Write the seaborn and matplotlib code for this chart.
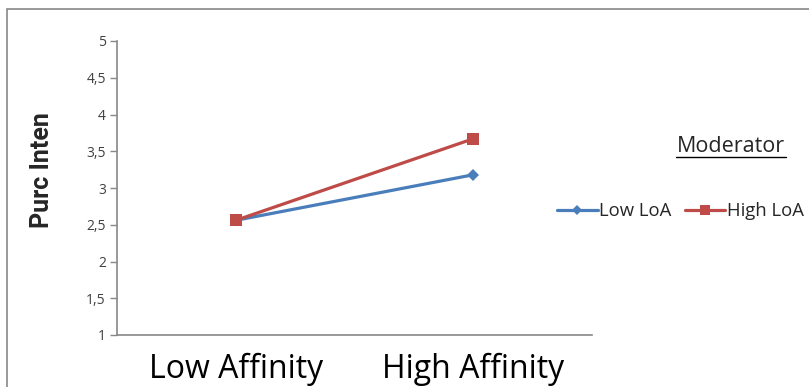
import matplotlib
matplotlib.use("Agg")
import matplotlib.pyplot as plt
import seaborn as sns
import pandas as pd
from matplotlib.lines import Line2D
from matplotlib.patches import Rectangle

categories = ["Low Affinity", "High Affinity"]
series = ["Low LoA", "High LoA"]
low_loa = [2.56, 3.18]
high_loa = [2.56, 3.67]
y_ticks = [1, 1.5, 2, 2.5, 3, 3.5, 4, 4.5, 5]

df = pd.DataFrame({
    "Affinity": categories * 2,
    "Purc Inten": low_loa + high_loa,
    "Moderator": [series[0]] * 2 + [series[1]] * 2,
})

sns.set_style("white")
plt.rcParams["font.family"] = ["Open Sans", "DejaVu Sans"]

W, H = 809, 387
fig = plt.figure(figsize=(W / 100, H / 100), dpi=100)
ax = fig.add_axes([117 / W, 1 - 335 / H, (592 - 117) / W, (335 - 41) / H])

blue = "#4A7EBB"
red = "#BE4B48"
sns.lineplot(data=df, x="Affinity", y="Purc Inten", hue="Moderator", style="Moderator",
             palette={"Low LoA": blue, "High LoA": red},
             markers={"Low LoA": "D", "High LoA": "s"}, dashes=False,
             linewidth=2.3, markeredgewidth=0, ax=ax, legend=False, sort=False)
for ln in ax.get_lines():
    if ln.get_marker() == "D":
        ln.set_markersize(6.5)
    elif ln.get_marker() == "s":
        ln.set_markersize(9)

ax.set_xlim(-0.5, 1.5)
ax.set_ylim(1, 5)
ax.set_yticks(y_ticks)
ax.set_yticklabels([f"{v:g}".replace(".", ",") for v in y_ticks], fontsize=10, color="#404040")
ax.set_xticks([-0.5, 0.5, 1.5])
ax.set_xticklabels([])
ax.set_xticks([0, 1], minor=True)
ax.set_xticklabels(categories, minor=True, fontsize=23, color="black")
ax.tick_params(axis="x", which="minor", length=0, pad=13)
ax.tick_params(axis="x", which="major", direction="in", length=5, color="#888888", width=1)
ax.tick_params(axis="y", which="major", direction="out", length=5, color="#888888", width=1, pad=3, left=True)
for s in ["top", "right"]:
    ax.spines[s].set_visible(False)
for s in ["left", "bottom"]:
    ax.spines[s].set_color("#888888")
    ax.spines[s].set_linewidth(1.2)
ax.set_xlabel("")
ax.set_ylabel("")

fig.text(42 / W, 1 - 170 / H, "Purc Inten", rotation=90, ha="center", va="center",
         fontsize=18, fontweight="bold", family=["Roboto", "DejaVu Sans"])

# frame
fig.patches.append(Rectangle((7 / W, -0.5), 2, 1 - 9 / H + 0.5, transform=fig.transFigure,
                             fill=False, edgecolor="#888888", linewidth=1.2))

# legend
handles = [Line2D([], [], color=blue, marker="D", markersize=5, linewidth=2.3, markeredgewidth=0),
           Line2D([], [], color=red, marker="s", markersize=7.5, linewidth=2.3, markeredgewidth=0)]
fig.legend(handles, series, loc="center left", bbox_to_anchor=(557 / W, 1 - 211 / H), ncol=2,
           frameon=False, fontsize=13.3, handlelength=2.2, handletextpad=0.1, columnspacing=0.7,
           borderpad=0, borderaxespad=0)
fig.text(731 / W, 1 - 147 / H, "Moderator", ha="center", va="center", fontsize=15.5)
fig.add_artist(Line2D([676 / W, 786 / W], [1 - 157 / H, 1 - 157 / H], transform=fig.transFigure,
                     color="black", linewidth=1))

fig.savefig("out.png", dpi=100)
